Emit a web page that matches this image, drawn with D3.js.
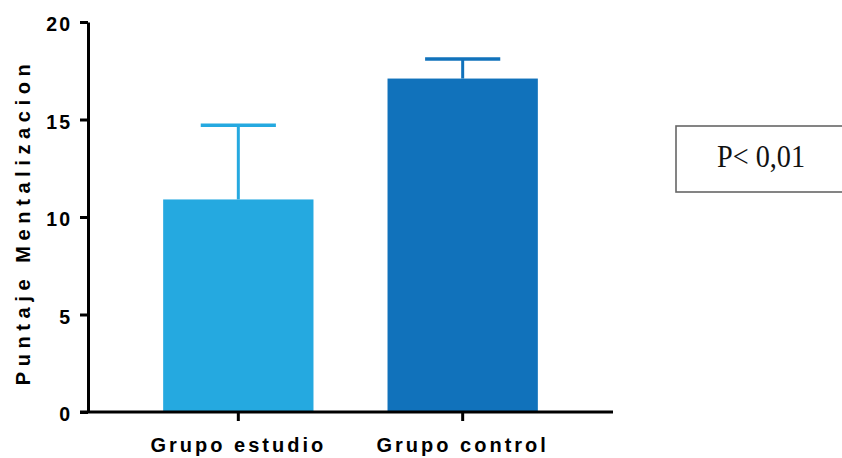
<!DOCTYPE html>
<html>
<head>
<meta charset="utf-8">
<script src="https://cdn.jsdelivr.net/npm/d3@7"></script>
<style>
  html, body { margin: 0; padding: 0; background: #fff; }
  svg { display: block; }
</style>
</head>
<body>
<svg id="chart" width="842" height="458"></svg>
<script>
// Mentalization score by group: mean with upper error bar
const groups = ["Grupo estudio", "Grupo control"];
const means = [10.9, 17.1];
const errors = [3.8, 1.0];
const barColors = ["#25a9e0", "#1172bb"];
const yTicks = [0, 5, 10, 15, 20];
const yTitle = "Puntaje Mentalizacion";
const annotation = "P< 0,01";

const svg = d3.select("#chart");
const plot = { left: 88, right: 613, top: 22, bottom: 412 };

const x = d3.scaleBand()
  .domain(groups)
  .range([plot.left, plot.right])
  .paddingInner(0.33)
  .paddingOuter(0.335);

const y = d3.scaleLinear()
  .domain([0, 20])
  .range([plot.bottom, plot.top]);

const rows = groups.map((g, i) => ({ g, mean: means[i], err: errors[i], color: barColors[i] }));

// bars
svg.append("g").selectAll("rect")
  .data(rows)
  .join("rect")
  .attr("x", d => x(d.g))
  .attr("y", d => y(d.mean))
  .attr("width", x.bandwidth())
  .attr("height", d => y(0) - y(d.mean))
  .attr("fill", d => d.color);

// error bars (upper only)
const eb = svg.append("g").selectAll("g").data(rows).join("g");
eb.append("line")
  .attr("x1", d => x(d.g) + x.bandwidth() / 2)
  .attr("x2", d => x(d.g) + x.bandwidth() / 2)
  .attr("y1", d => y(d.mean))
  .attr("y2", d => y(d.mean + d.err))
  .attr("stroke", d => d.color)
  .attr("stroke-width", 3);
eb.append("line")
  .attr("x1", d => x(d.g) + x.bandwidth() / 4)
  .attr("x2", d => x(d.g) + x.bandwidth() * 3 / 4)
  .attr("y1", d => y(d.mean + d.err))
  .attr("y2", d => y(d.mean + d.err))
  .attr("stroke", d => d.color)
  .attr("stroke-width", 3.5);

// y axis
const yAxis = svg.append("g")
  .attr("transform", `translate(${plot.left},0)`)
  .call(d3.axisLeft(y).tickValues(yTicks).tickSize(8).tickPadding(8).tickSizeOuter(0));
yAxis.select(".domain").attr("stroke", "#000").attr("stroke-width", 3);
yAxis.selectAll(".tick line").attr("stroke", "#000").attr("stroke-width", 3);
yAxis.selectAll(".tick text")
  .attr("fill", "#000")
  .attr("dy", "0.45em")
  .style("font-family", "'Liberation Sans', Arial, sans-serif")
  .style("font-weight", "bold")
  .style("font-size", "19.5px")
  .style("letter-spacing", "2px");

// x axis
const xAxis = svg.append("g")
  .attr("transform", `translate(0,${plot.bottom})`)
  .call(d3.axisBottom(x).tickSize(9).tickPadding(17).tickSizeOuter(0));
xAxis.select(".domain").attr("stroke", "#000").attr("stroke-width", 3)
  .attr("d", `M${plot.left - 8},0H${plot.right}`);
xAxis.selectAll(".tick line").attr("stroke", "#000").attr("stroke-width", 3);
xAxis.selectAll(".tick text")
  .attr("fill", "#000")
  .style("font-family", "'Liberation Sans', Arial, sans-serif")
  .style("font-weight", "bold")
  .style("font-size", "20px")
  .style("letter-spacing", "3px");

// y axis title
svg.append("text")
  .attr("transform", "translate(30,222) rotate(-90)")
  .attr("text-anchor", "middle")
  .style("font-family", "'Liberation Sans', Arial, sans-serif")
  .style("font-weight", "bold")
  .style("font-size", "20px")
  .style("letter-spacing", "5.6px")
  .text(yTitle);

// significance box
svg.append("rect")
  .attr("x", 676)
  .attr("y", 126)
  .attr("width", 200)
  .attr("height", 66)
  .attr("fill", "none")
  .attr("stroke", "#666")
  .attr("stroke-width", 1.6);
svg.append("text")
  .attr("x", 717)
  .attr("y", 167)
  .attr("textLength", 88)
  .attr("lengthAdjust", "spacingAndGlyphs")
  .style("font-family", "'Liberation Serif', 'Times New Roman', serif")
  .style("font-size", "32px")
  .attr("fill", "#111")
  .text(annotation);
</script>
</body>
</html>
